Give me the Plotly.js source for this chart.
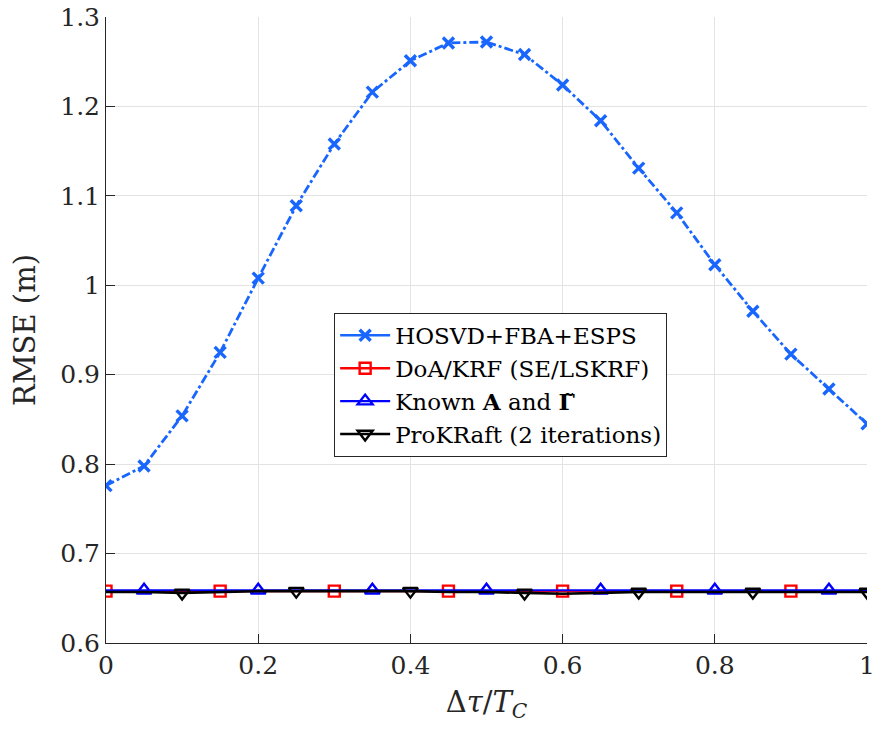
<!DOCTYPE html>
<html>
<head>
<meta charset="utf-8">
<script src="https://cdn.plot.ly/plotly-3.0.1.min.js"></script>
<style>html,body{margin:0;padding:0;background:#fff;}#chart{width:877px;height:736px;}</style>
</head>
<body>
<div id="chart"></div>
<script>
// ---- data ----
const delayRatio = [0, 0.05, 0.1, 0.15, 0.2, 0.25, 0.3, 0.35, 0.4, 0.45, 0.5, 0.55, 0.6, 0.65, 0.7, 0.75, 0.8, 0.85, 0.9, 0.95, 1];
const hosvdFbaEsps = [0.776, 0.798, 0.854, 0.925, 1.008, 1.089, 1.158, 1.216, 1.251, 1.271, 1.272, 1.258, 1.224, 1.184, 1.131, 1.081, 1.023, 0.971, 0.923, 0.884, 0.845];
const doaKrf = [0.658, 0.658, 0.658, 0.658, 0.658, 0.658, 0.658, 0.658, 0.658, 0.658, 0.658, 0.658, 0.658, 0.658, 0.658, 0.658, 0.658, 0.658, 0.658, 0.658, 0.658];
const knownAGamma = [0.659, 0.659, 0.659, 0.659, 0.659, 0.659, 0.659, 0.659, 0.659, 0.659, 0.659, 0.659, 0.659, 0.659, 0.659, 0.659, 0.659, 0.659, 0.659, 0.659, 0.659];
const proKRaft = [0.657, 0.657, 0.656, 0.657, 0.658, 0.658, 0.658, 0.658, 0.658, 0.657, 0.657, 0.656, 0.655, 0.656, 0.657, 0.657, 0.657, 0.657, 0.657, 0.657, 0.657];
const seriesNames = ['HOSVD+FBA+ESPS', 'DoA/KRF (SE/LSKRF)', 'Known <b>A</b> and <b>Γ̃</b>', 'ProKRaft (2 iterations)'];
const xTicks = [0, 0.2, 0.4, 0.6, 0.8, 1];
const xTickText = ['0', '0.2', '0.4', '0.6', '0.8', '1'];
const yTicks = [0.6, 0.7, 0.8, 0.9, 1, 1.1, 1.2, 1.3];
const yTickText = ['0.6', '0.7', '0.8', '0.9', '1', '1.1', '1.2', '1.3'];

const N = delayRatio.length;
// indices that carry a marker (every 3rd point, different offsets)
function markerIdx(offset, step) {
  const idx = [];
  for (let i = offset; i < N; i += step) idx.push(i);
  return idx;
}
function pick(arr, idx) { return idx.map(i => arr[i]); }

const FONT = 'DejaVu Serif, serif';
const C_HOS = '#1966ff', C_RED = '#ff0000', C_BLU = '#0000ff', C_BLK = '#000000';

const styles = [
  {y: hosvdFbaEsps, color: C_HOS, lw: 2.8, dash: 'dashdot', symbol: 'x-thin', size: 11, mlw: 3.4, idx: markerIdx(0, 1)},
  {y: doaKrf, color: C_RED, lw: 2, dash: 'solid', symbol: 'square-open', size: 11, mlw: 2.4, idx: markerIdx(0, 3)},
  {y: knownAGamma, color: C_BLU, lw: 2, dash: 'solid', symbol: 'triangle-up-open', size: 13, mlw: 2.4, idx: markerIdx(1, 3)},
  {y: proKRaft, color: C_BLK, lw: 2.6, dash: 'solid', symbol: 'triangle-down-open', size: 13, mlw: 2.4, idx: markerIdx(2, 3)}
];

const traces = [];
styles.forEach((s, k) => {
  traces.push({
    x: delayRatio, y: s.y, mode: 'lines', showlegend: false, hoverinfo: 'skip',
    line: {color: s.color, width: s.lw, dash: s.dash}
  });
  traces.push({
    x: pick(delayRatio, s.idx), y: pick(s.y, s.idx), mode: 'markers', showlegend: false,
    marker: {symbol: s.symbol, size: s.size, color: s.color, line: {color: s.color, width: s.mlw}}
  });
});
// legend entries
styles.forEach((s, k) => {
  traces.push({
    x: [null], y: [null], name: seriesNames[k], mode: 'lines+markers', showlegend: true,
    line: {color: s.color, width: 2.4, dash: 'solid'},
    marker: {symbol: s.symbol, size: s.size, color: s.color, line: {color: s.color, width: s.mlw}}
  });
});

const layout = {
  width: 877, height: 736,
  margin: {l: 105.7, r: 9.7, t: 17.3, b: 93, pad: 0},
  paper_bgcolor: '#ffffff', plot_bgcolor: '#ffffff',
  font: {family: FONT, color: '#262626'},
  showlegend: true,
  legend: {
    x: 0.2998, y: 0.5274, xanchor: 'left', yanchor: 'top',
    bgcolor: '#ffffff', bordercolor: '#262626', borderwidth: 1,
    font: {family: FONT, size: 23, color: '#000000'},
    itemwidth: 50, tracegroupgap: 0
  },
  xaxis: {
    range: [0, 1], tickmode: 'array', tickvals: xTicks, ticktext: xTickText,
    showgrid: true, gridcolor: '#e3e3e3', gridwidth: 1,
    zeroline: false, showline: true, linecolor: '#262626', linewidth: 1,
    ticks: 'inside', ticklen: 9, tickcolor: '#262626', tickwidth: 1,
    tickfont: {family: FONT, size: 25, color: '#262626'},
    title: {text: 'Δ<i>τ</i>/<i>T</i><sub><i>C</i></sub>', font: {family: FONT, size: 29, color: '#262626'}, standoff: 12}
  },
  yaxis: {
    range: [0.6, 1.3], tickmode: 'array', tickvals: yTicks, ticktext: yTickText,
    showgrid: true, gridcolor: '#e3e3e3', gridwidth: 1,
    zeroline: false, showline: true, linecolor: '#262626', linewidth: 1,
    ticks: 'inside', ticklen: 9, tickcolor: '#262626', tickwidth: 1,
    tickfont: {family: FONT, size: 25, color: '#262626'},
    title: {text: 'RMSE (m)', font: {family: FONT, size: 29, color: '#262626'}, standoff: 16}
  }
};

Plotly.newPlot('chart', traces, layout, {displayModeBar: false, staticPlot: true});
</script>
</body>
</html>
